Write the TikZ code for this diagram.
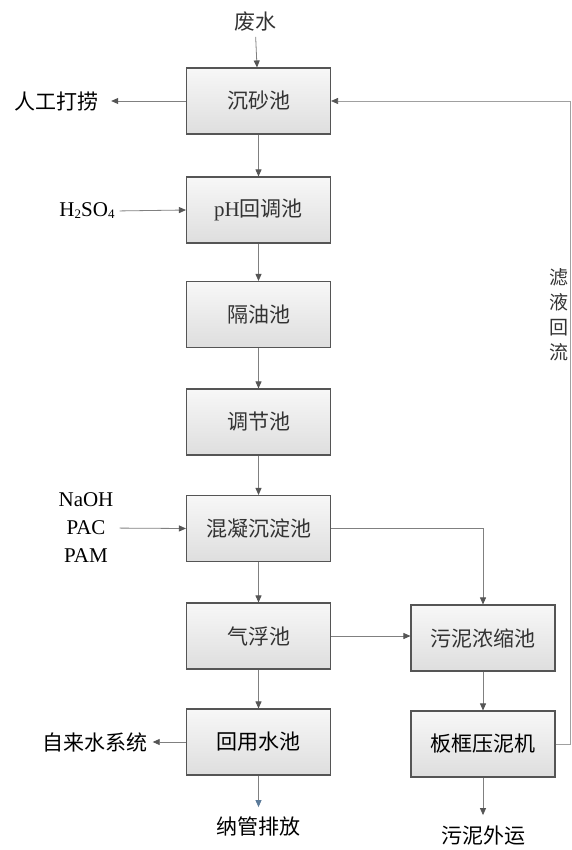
\documentclass[tikz,border=0pt]{standalone}
\usepackage{fontspec}
\setmainfont{Liberation Serif}
\newfontfamily\cjk{Noto Sans CJK SC}
\usetikzlibrary{arrows.meta}
\definecolor{linec}{HTML}{808080}
\definecolor{retc}{HTML}{A0A0A0}
\definecolor{tipc}{HTML}{555555}
\definecolor{boxedge}{HTML}{555555}
\definecolor{bluetip}{HTML}{5B7A99}
\definecolor{txtc}{HTML}{333333}
\begin{document}
\begin{tikzpicture}[x=1pt,y=-1pt,
  box/.style={draw=boxedge, line width=1.1pt, top color=black!3, bottom color=black!13,
    minimum width=144pt, minimum height=66pt, inner sep=0pt, text=txtc,
    font=\cjk\fontsize{21}{21}\selectfont},
  darkbox/.style={box, text=black},
  lbl/.style={inner sep=0pt, text=black, font=\cjk\fontsize{21}{21}\selectfont},
  chem/.style={inner sep=0pt, text=black, font=\fontsize{21}{21}\selectfont},
  flow/.style={draw=linec, line width=0.8pt, -{Triangle[length=7pt,width=6pt,color=tipc]}},
  blueflow/.style={draw=linec, line width=0.8pt, -{Triangle[length=7pt,width=6pt,color=bluetip]}},
  retflow/.style={draw=retc, line width=0.8pt, -{Triangle[length=7pt,width=6pt,color=tipc]}},
]
\useasboundingbox[fill=white] (0,0) rectangle (572,850);

% main column
\node[box] (s1) at (258.5,101) {沉砂池};
\node[box] (s2) at (258.5,210) {{\rmfamily pH}回调池};
\node[box] (s3) at (258.5,314.5) {隔油池};
\node[box] (s4) at (258.5,422) {调节池};
\node[box] (s5) at (258.5,528.5) {混凝沉淀池};
\node[box] (s6) at (258.5,636) {气浮池};
\node[darkbox] (s7) at (258.5,742) {回用水池};
% right column
\node[box] (r1) at (483,638) {污泥浓缩池};
\node[darkbox] (r2) at (483,744) {板框压泥机};

% labels
\node[lbl, text=txtc] (ws) at (255,22) {废水};
\node[lbl] (rg) at (56,101) {人工打捞};
\node[chem] (h2) at (87,211) {H{\fontsize{13}{13}\selectfont\raisebox{-2pt}{2}}SO{\fontsize{13}{13}\selectfont\raisebox{-2pt}{4}}};
\node[chem] (naoh) at (86,500) {NaOH};
\node[chem] (pac) at (86,528) {PAC};
\node[chem] (pam) at (86,556) {PAM};
\node[lbl] (zl) at (95,742) {自来水系统};
\node[lbl] (ng) at (258.5,826) {纳管排放};
\node[lbl] (wy) at (483,836) {污泥外运};
\node[lbl, text=txtc, align=center, font=\cjk\fontsize{19}{25}\selectfont] (lh) at (559,314.5) {滤\\液\\回\\流};

\coordinate (c1) at (570,744);
\coordinate (c2) at (570,101);

% connectors
\draw[flow, shorten <=5pt] (ws) -- (s1);
\draw[flow] (s1) -- (s2);
\draw[flow] (s2) -- (s3);
\draw[flow] (s3) -- (s4);
\draw[flow] (s4) -- (s5);
\draw[flow] (s5) -- (s6);
\draw[flow] (s6) -- (s7);
\draw[flow, shorten >=13pt] (s1.west) -- (rg.east);
\draw[flow, shorten <=5pt] (h2.east) -- (s2.west);
\draw[flow, shorten <=14pt] (pac.east) -- (s5.west);
\draw[flow] (s5.east) -| (r1.north);
\draw[flow] (s6.east) -- (s6.east -| r1.west);
\draw[flow, shorten >=5pt] (s7.west) -- (zl.east);
\draw[blueflow, shorten >=9pt] (s7.south) -- (ng.north);
\draw[flow] (r1) -- (r2);
\draw[flow, shorten >=11pt] (r2.south) -- (wy.north);
\draw[retflow] (r2.east) -- (c1) -- (c2) -- (s1.east);
\end{tikzpicture}
\end{document}
